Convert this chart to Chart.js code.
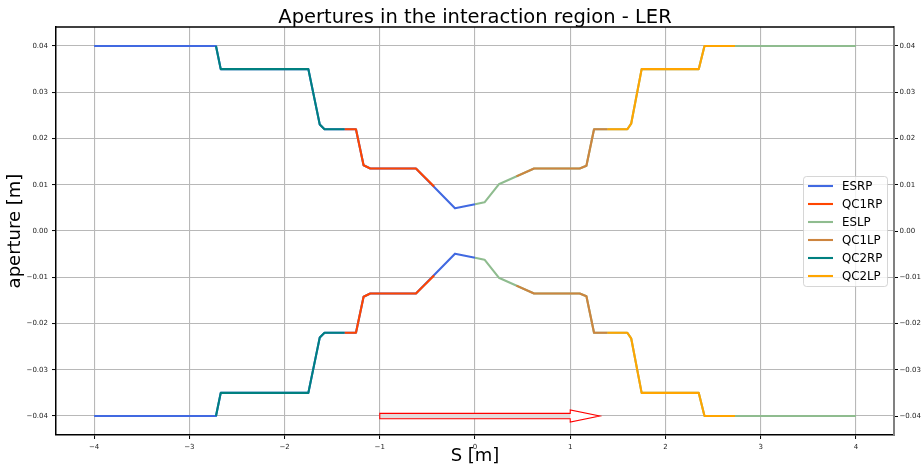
<!DOCTYPE html>
<html>
<head>
<meta charset="utf-8">
<script src="https://cdn.jsdelivr.net/npm/chart.js@4.4.1/dist/chart.umd.min.js"></script>
<style>
html, body { margin: 0; padding: 0; background: #ffffff; }
#wrap { width: 923px; height: 468px; position: relative; }
</style>
</head>
<body>
<div id="wrap"><canvas id="c"></canvas></div>
<script>
// ---------- data ----------
const chartTitle = 'Apertures in the interaction region - LER';
const xLabel = 'S [m]';
const yLabel = 'aperture [m]';

const seriesNames  = ['ESRP', 'QC1RP', 'ESLP', 'QC1LP', 'QC2RP', 'QC2LP'];
const seriesColors = ['#4169e1', '#ff4500', '#8fbc8f', '#cd853f', '#008080', '#ffa500'];

// ESRP (right side, -4 .. 0)
const esrpS      = [-4.00, -2.72, -2.67, -1.75, -1.63, -1.58, -1.25, -1.17, -1.10, -0.62, -0.21, 0.00];
const esrpTop    = [0.0400, 0.0400, 0.0350, 0.0350, 0.0230, 0.0220, 0.0220, 0.0142, 0.0135, 0.0135, 0.0049, 0.0058];
const esrpBottom = [-0.0400, -0.0400, -0.0350, -0.0350, -0.0230, -0.0220, -0.0220, -0.0142, -0.0135, -0.0135, -0.0049, -0.0058];

// QC1RP
const qc1rpS      = [-1.37, -1.25, -1.17, -1.10, -0.62, -0.43];
const qc1rpTop    = [0.0220, 0.0220, 0.0142, 0.0135, 0.0135, 0.0096];
const qc1rpBottom = [-0.0220, -0.0220, -0.0142, -0.0135, -0.0135, -0.0096];

// ESLP (left side, 0 .. 4)
const eslpS      = [0.00, 0.10, 0.25, 0.62, 1.10, 1.17, 1.25, 1.60, 1.64, 1.75, 2.35, 2.41, 4.00];
const eslpTop    = [0.0058, 0.0062, 0.0101, 0.0135, 0.0135, 0.0141, 0.0220, 0.0220, 0.0232, 0.0350, 0.0350, 0.0400, 0.0400];
const eslpBottom = [-0.0058, -0.0062, -0.0101, -0.0135, -0.0135, -0.0141, -0.0220, -0.0220, -0.0232, -0.0350, -0.0350, -0.0400, -0.0400];

// QC1LP
const qc1lpS      = [0.435, 0.62, 1.10, 1.17, 1.25, 1.39];
const qc1lpTop    = [0.0118, 0.0135, 0.0135, 0.0141, 0.0220, 0.0220];
const qc1lpBottom = [-0.0118, -0.0135, -0.0135, -0.0141, -0.0220, -0.0220];

// QC2RP
const qc2rpS      = [-2.72, -2.67, -1.75, -1.63, -1.58, -1.37];
const qc2rpTop    = [0.0400, 0.0350, 0.0350, 0.0230, 0.0220, 0.0220];
const qc2rpBottom = [-0.0400, -0.0350, -0.0350, -0.0230, -0.0220, -0.0220];

// QC2LP
const qc2lpS      = [1.39, 1.60, 1.64, 1.75, 2.35, 2.41, 2.73];
const qc2lpTop    = [0.0220, 0.0220, 0.0232, 0.0350, 0.0350, 0.0400, 0.0400];
const qc2lpBottom = [-0.0220, -0.0220, -0.0232, -0.0350, -0.0350, -0.0400, -0.0400];

// axis ticks
const xTicks = [-4, -3, -2, -1, 0, 1, 2, 3, 4];
const yTicks = [-0.04, -0.03, -0.02, -0.01, 0.00, 0.01, 0.02, 0.03, 0.04];
const xRange = [-4.4, 4.4];
const yRange = [-0.0441, 0.0441];

// arrow (data units)
const arrowTail = [-1.0, -0.04];
const arrowTip  = [1.31, -0.04];
const arrowShaftHalfWidth = 0.00058;
const arrowHeadHalfWidth  = 0.0013;
const arrowHeadLength     = 0.31;

// ---------- build datasets ----------
const seriesS      = [esrpS, qc1rpS, eslpS, qc1lpS, qc2rpS, qc2lpS];
const seriesTop    = [esrpTop, qc1rpTop, eslpTop, qc1lpTop, qc2rpTop, qc2lpTop];
const seriesBottom = [esrpBottom, qc1rpBottom, eslpBottom, qc1lpBottom, qc2rpBottom, qc2lpBottom];

function buildPoints(s, top, bottom) {
  const pts = s.map((x, i) => ({ x: x, y: top[i] }));
  pts.push({ x: s[s.length - 1], y: null });
  s.forEach((x, i) => pts.push({ x: x, y: bottom[i] }));
  return pts;
}

const datasets = seriesNames.map((name, i) => ({
  label: name,
  data: buildPoints(seriesS[i], seriesTop[i], seriesBottom[i]),
  borderColor: seriesColors[i],
  backgroundColor: seriesColors[i],
  borderWidth: 2.1,
  pointRadius: 0,
  pointHoverRadius: 0,
  tension: 0,
  fill: false,
  spanGaps: false,
  borderJoinStyle: 'round',
  borderCapStyle: 'butt',
  order: seriesNames.length - i   // later series drawn on top
}));

const FONT = '"DejaVu Sans", "Liberation Sans", sans-serif';
const fmtMinus = v => (v < 0 ? '\u2212' : '') + Math.abs(v);
const fmtY = v => (v < -1e-9 ? '\u2212' : '') + Math.abs(v).toFixed(2);

// ---------- plugins ----------
const decorPlugin = {
  id: 'decor',
  afterDatasetsDraw(chart) {
    const ctx = chart.ctx;
    const xs = chart.scales.x, ys = chart.scales.y;
    const x0 = xs.getPixelForValue(arrowTail[0]);
    const xt = xs.getPixelForValue(arrowTip[0]);
    const xh = xs.getPixelForValue(arrowTip[0] - arrowHeadLength);
    const yc = ys.getPixelForValue(arrowTail[1]);
    const sh = Math.abs(ys.getPixelForValue(arrowTail[1] + arrowShaftHalfWidth) - yc);
    const hh = Math.abs(ys.getPixelForValue(arrowTail[1] + arrowHeadHalfWidth) - yc);
    ctx.save();
    ctx.fillStyle = '#e2dcdc';
    ctx.fillRect(x0, yc - sh, xh - x0, 2 * sh);
    ctx.beginPath();
    ctx.moveTo(xh, yc - hh); ctx.lineTo(xt, yc); ctx.lineTo(xh, yc + hh); ctx.closePath();
    ctx.fillStyle = '#ffffff';
    ctx.fill();
    ctx.beginPath();
    ctx.moveTo(x0, yc - sh);
    ctx.lineTo(xh, yc - sh);
    ctx.lineTo(xh, yc - hh);
    ctx.lineTo(xt, yc);
    ctx.lineTo(xh, yc + hh);
    ctx.lineTo(xh, yc + sh);
    ctx.lineTo(x0, yc + sh);
    ctx.closePath();
    ctx.strokeStyle = '#ff0000';
    ctx.lineWidth = 1.1;
    ctx.lineJoin = 'miter';
    ctx.stroke();
    ctx.restore();
  },
  afterDraw(chart) {
    const ctx = chart.ctx;
    const ca = chart.chartArea;
    ctx.save();
    ctx.beginPath();
    ctx.moveTo(ca.left - 0.75, ca.top);
    ctx.lineTo(ca.right, ca.top);
    ctx.strokeStyle = '#000000';
    ctx.lineWidth = 1.5;
    ctx.stroke();
    ctx.fillStyle = '#000000';
    ctx.font = '19.5px ' + FONT;
    ctx.textAlign = 'center';
    ctx.textBaseline = 'alphabetic';
    ctx.fillText(chartTitle, (ca.left + ca.right) / 2, ca.top - 4.5);

    const fs = 11.8;
    const rowH = 18;
    const boxW = 84, boxH = 110;
    const bx = ca.right - 7 - boxW;
    const by = (ca.top + ca.bottom) / 2 - boxH / 2;
    ctx.beginPath();
    if (ctx.roundRect) ctx.roundRect(bx + 0.5, by + 0.5, boxW, boxH, 3);
    else ctx.rect(bx + 0.5, by + 0.5, boxW, boxH);
    ctx.fillStyle = 'rgba(255,255,255,0.8)';
    ctx.fill();
    ctx.strokeStyle = 'rgba(204,204,204,0.8)';
    ctx.lineWidth = 1;
    ctx.stroke();
    ctx.font = fs + 'px ' + FONT;
    ctx.textAlign = 'left';
    ctx.textBaseline = 'middle';
    seriesNames.forEach((name, i) => {
      const yy = by + 10 + i * rowH;
      ctx.beginPath();
      ctx.moveTo(bx + 5, yy);
      ctx.lineTo(bx + 30, yy);
      ctx.strokeStyle = seriesColors[i];
      ctx.lineWidth = 2.1;
      ctx.stroke();
      ctx.fillStyle = '#000000';
      ctx.fillText(name, bx + 39, yy + 0.5);
    });
    ctx.restore();
  }
};

// ---------- chart ----------
const tickFont = { family: FONT, size: 7 };
new Chart(document.getElementById('c'), {
  type: 'line',
  data: { datasets: datasets },
  plugins: [decorPlugin],
  options: {
    responsive: true,
    maintainAspectRatio: false,
    animation: false,
    devicePixelRatio: 1,
    layout: { padding: { top: 27, left: 0, right: 0, bottom: 0 } },
    plugins: {
      legend: { display: false },
      title: { display: false },
      tooltip: { enabled: false }
    },
    events: [],
    scales: {
      x: {
        type: 'linear',
        position: 'bottom',
        min: xRange[0], max: xRange[1],
        afterBuildTicks: s => { s.ticks = xTicks.map(v => ({ value: v })); },
        afterFit: s => { s.height = 33; },
        ticks: { font: tickFont, color: '#222', padding: 3.5, maxRotation: 0, autoSkip: false,
                 callback: v => fmtMinus(v) },
        grid: { color: '#b8b8b8', lineWidth: 1.1, tickColor: '#000', tickLength: 4, tickWidth: 1 },
        border: { display: true, color: '#000', width: 1.5 },
        title: { display: true, text: xLabel, color: '#000',
                 font: { family: FONT, size: 18 }, padding: { top: 0, bottom: 1 } }
      },
      y: {
        type: 'linear',
        position: 'left',
        min: yRange[0], max: yRange[1],
        afterBuildTicks: s => { s.ticks = yTicks.map(v => ({ value: v })); },
        afterFit: s => { s.width = 56; },
        ticks: { font: tickFont, color: '#222', padding: 4, autoSkip: false,
                 callback: v => fmtY(v) },
        grid: { color: '#b8b8b8', lineWidth: 1.1, tickColor: '#000', tickLength: 4, tickWidth: 1 },
        border: { display: true, color: '#000', width: 1.5 },
        title: { display: true, text: yLabel, color: '#000',
                 font: { family: FONT, size: 18 }, padding: { top: 5, bottom: 0 } }
      },
      y2: {
        type: 'linear',
        position: 'right',
        min: yRange[0], max: yRange[1],
        afterBuildTicks: s => { s.ticks = yTicks.map(v => ({ value: v })); },
        afterFit: s => { s.width = 29; },
        ticks: { font: tickFont, color: '#222', padding: 1.5, autoSkip: false,
                 callback: v => fmtY(v) },
        grid: { display: true, drawOnChartArea: false, tickColor: '#000', tickLength: 4, tickWidth: 1 },
        border: { display: true, color: '#808080', width: 2 }
      }
    }
  }
});
</script>
</body>
</html>
